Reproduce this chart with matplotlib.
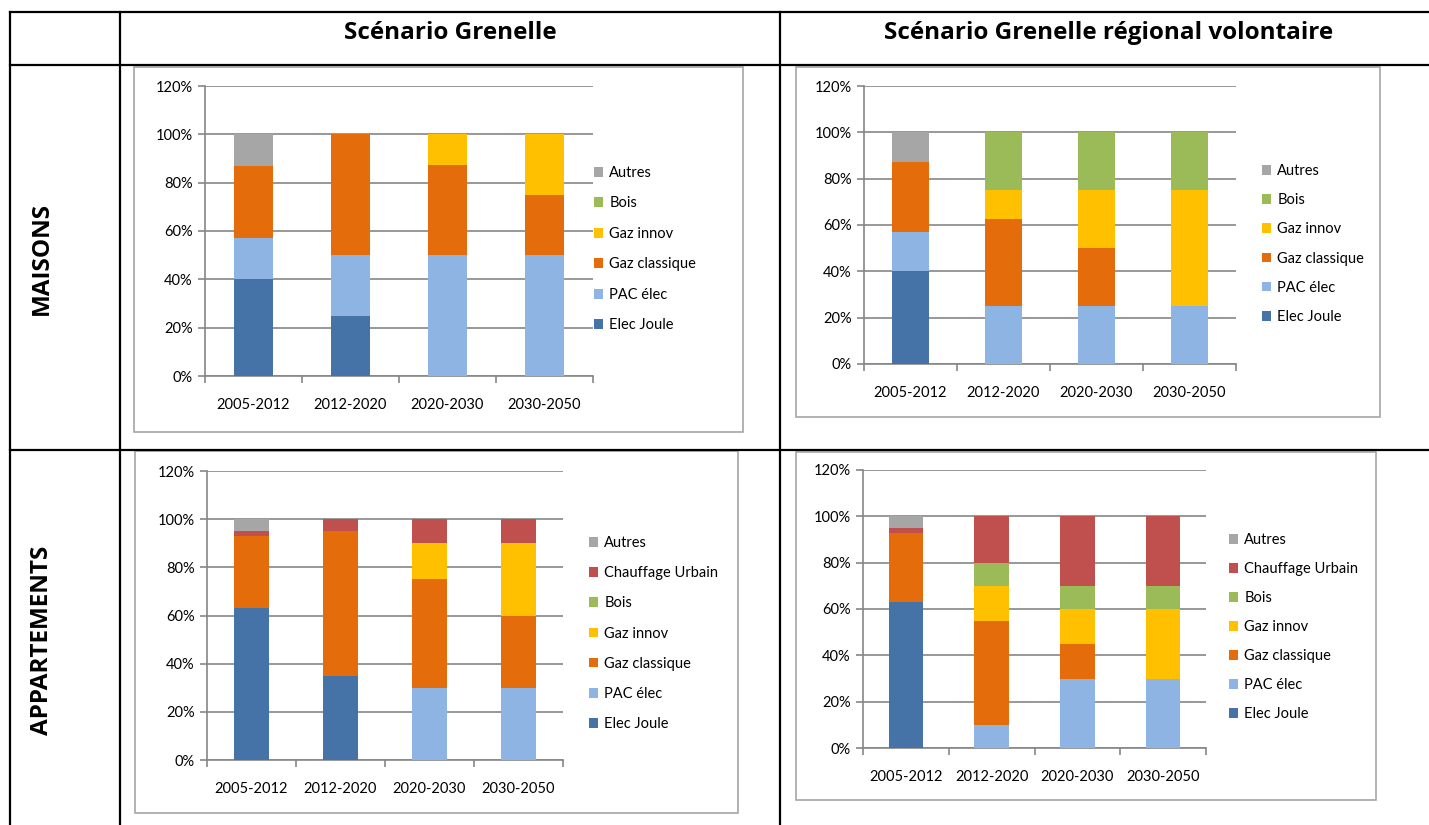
import matplotlib.pyplot as plt
from matplotlib.patches import Rectangle
from matplotlib.lines import Line2D
from matplotlib.ticker import PercentFormatter

plt.rcParams['font.family'] = ['Lato', 'DejaVu Sans']

periods = ['2005-2012', '2012-2020', '2020-2030', '2030-2050']
col_titles = ['Scénario Grenelle', 'Scénario Grenelle régional volontaire']
row_titles = ['MAISONS', 'APPARTEMENTS']

# parts in % (bottom -> top)
# Maisons - Grenelle
mg_elec_joule = [40, 25, 0, 0]
mg_pac_elec = [17, 25, 50, 50]
mg_gaz_classique = [30, 50, 37.5, 25]
mg_gaz_innov = [0, 0, 12.5, 25]
mg_bois = [0, 0, 0, 0]
mg_autres = [13, 0, 0, 0]

# Maisons - Grenelle régional volontaire
mr_elec_joule = [40, 0, 0, 0]
mr_pac_elec = [17, 25, 25, 25]
mr_gaz_classique = [30, 37.5, 25, 0]
mr_gaz_innov = [0, 12.5, 25, 50]
mr_bois = [0, 25, 25, 25]
mr_autres = [13, 0, 0, 0]

# Appartements - Grenelle
ag_elec_joule = [63, 35, 0, 0]
ag_pac_elec = [0, 0, 30, 30]
ag_gaz_classique = [30, 60, 45, 30]
ag_gaz_innov = [0, 0, 15, 30]
ag_bois = [0, 0, 0, 0]
ag_chauffage_urbain = [2, 5, 10, 10]
ag_autres = [5, 0, 0, 0]

# Appartements - Grenelle régional volontaire
ar_elec_joule = [63, 0, 0, 0]
ar_pac_elec = [0, 10, 30, 30]
ar_gaz_classique = [30, 45, 15, 0]
ar_gaz_innov = [0, 15, 15, 30]
ar_bois = [0, 10, 10, 10]
ar_chauffage_urbain = [2, 20, 30, 30]
ar_autres = [5, 0, 0, 0]

colors = {
    'Elec Joule': '#4572A7',
    'PAC élec': '#8EB4E3',
    'Gaz classique': '#E46C0A',
    'Gaz innov': '#FFC000',
    'Bois': '#9BBB59',
    'Chauffage Urbain': '#C0504D',
    'Autres': '#A6A6A6',
}

maisons_g = {'Elec Joule': mg_elec_joule, 'PAC élec': mg_pac_elec,
             'Gaz classique': mg_gaz_classique, 'Gaz innov': mg_gaz_innov,
             'Bois': mg_bois, 'Autres': mg_autres}
maisons_r = {'Elec Joule': mr_elec_joule, 'PAC élec': mr_pac_elec,
             'Gaz classique': mr_gaz_classique, 'Gaz innov': mr_gaz_innov,
             'Bois': mr_bois, 'Autres': mr_autres}
apparts_g = {'Elec Joule': ag_elec_joule, 'PAC élec': ag_pac_elec,
             'Gaz classique': ag_gaz_classique, 'Gaz innov': ag_gaz_innov,
             'Bois': ag_bois, 'Chauffage Urbain': ag_chauffage_urbain,
             'Autres': ag_autres}
apparts_r = {'Elec Joule': ar_elec_joule, 'PAC élec': ar_pac_elec,
             'Gaz classique': ar_gaz_classique, 'Gaz innov': ar_gaz_innov,
             'Bois': ar_bois, 'Chauffage Urbain': ar_chauffage_urbain,
             'Autres': ar_autres}

W, H = 1429, 825
fig = plt.figure(figsize=(W / 100, H / 100), dpi=100)


def fx(x):
    return x / W


def fy(y):
    return 1 - y / H


# panel layout in pixels: chart box, plot area (left, right, y of 0%, y of 120%),
# legend top-left, legend spacing
panels = [
    (maisons_g, (134, 67, 743, 432), (205, 593, 376, 86), (594, 166), 1.13),
    (maisons_r, (796, 67, 1380, 417), (864, 1236, 364, 86), (1262, 164), 1.04),
    (apparts_g, (135, 451, 738, 813), (207, 563, 760, 471), (589, 536), 1.11),
    (apparts_r, (796, 452, 1376, 800), (863, 1206, 748, 470), (1229, 533), 1.03),
]

grid_col = '#868686'

for data, box, plot, leg, spacing in panels:
    bx0, by0, bx1, by1 = box
    fig.add_artist(Rectangle((fx(bx0), fy(by1)), fx(bx1 - bx0), (by1 - by0) / H,
                             transform=fig.transFigure, facecolor='none',
                             edgecolor='#A6A6A6', lw=1.2, zorder=-1))
    px0, px1, p0, p120 = plot
    ax = fig.add_axes([fx(px0), fy(p0), fx(px1 - px0), (p0 - p120) / H])
    bottom = [0] * len(periods)
    for name, vals in data.items():
        ax.bar(range(len(periods)), vals, 0.4, bottom=bottom,
               color=colors[name], label=name, zorder=3)
        bottom = [b + v for b, v in zip(bottom, vals)]
    ax.set_xlim(-0.5, len(periods) - 0.5)
    ax.set_ylim(0, 120)
    ax.set_yticks(range(0, 121, 20))
    ax.yaxis.set_major_formatter(PercentFormatter(decimals=0))
    ax.grid(axis='y', color=grid_col, lw=1.2, zorder=0)
    ax.set_xticks(range(len(periods)))
    ax.set_xticklabels(periods)
    ax.set_xticks([i - 0.5 for i in range(len(periods) + 1)], minor=True)
    ax.tick_params(axis='x', which='major', length=0, pad=16, labelsize=10.5)
    ax.tick_params(axis='x', which='minor', length=5, color=grid_col, width=1.2)
    ax.tick_params(axis='y', length=5, color=grid_col, width=1.2, labelsize=10.5, pad=4)
    for s in ['top', 'right']:
        ax.spines[s].set_visible(False)
    for s in ['left', 'bottom']:
        ax.spines[s].set_color(grid_col)
        ax.spines[s].set_linewidth(1.2)
    ax.set_facecolor('none')
    handles, labels = ax.get_legend_handles_labels()
    ax.legend(handles[::-1], labels[::-1], loc='upper left',
              bbox_to_anchor=(fx(leg[0]), fy(leg[1])),
              bbox_transform=fig.transFigure, frameon=False, fontsize=10.5,
              handlelength=0.65, handleheight=0.65, handletextpad=0.4,
              labelspacing=spacing, borderpad=0, borderaxespad=0)

# table lines
lw = 1.6
for y in (12, 65, 450):
    fig.add_artist(Line2D([fx(10), 1.0], [fy(y), fy(y)], color='black', lw=lw,
                          transform=fig.transFigure))
for x in (10, 120, 780):
    fig.add_artist(Line2D([fx(x), fx(x)], [fy(12), 0.0], color='black', lw=lw,
                          transform=fig.transFigure))

# header and row titles
for title, xc in zip(col_titles, (450, 1109)):
    fig.text(fx(xc), fy(33), title, ha='center', va='center',
             fontsize=17.5, fontweight='bold', family=['Open Sans', 'DejaVu Sans'])
for title, yc in zip(row_titles, (258, 640)):
    fig.text(fx(42), fy(yc), title, ha='center', va='center', rotation=90,
             fontsize=17.5, fontweight='bold', family=['Open Sans', 'DejaVu Sans'])

fig.savefig('out.png', dpi=100)
